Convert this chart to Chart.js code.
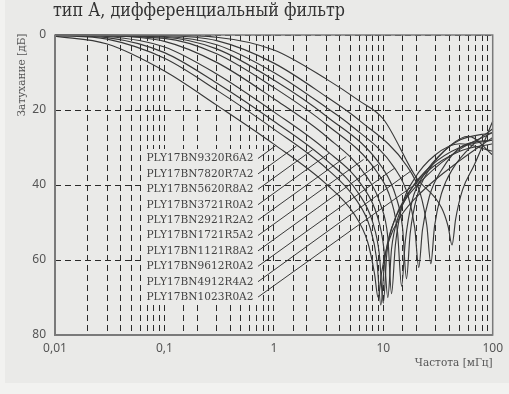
<!DOCTYPE html>
<html>
<head>
<meta charset="utf-8">
<script src="https://cdn.jsdelivr.net/npm/chart.js@4.4.1/dist/chart.umd.min.js"></script>
<style>
  html, body { margin: 0; padding: 0; background: #f2f2f0; }
  canvas { display: block; }
</style>
</head>
<body>
<canvas id="filter-chart" width="509" height="394"></canvas>
<script>
const partNames = ["PLY17BN9320R6A2", "PLY17BN7820R7A2", "PLY17BN5620R8A2", "PLY17BN3721R0A2",
  "PLY17BN2921R2A2", "PLY17BN1721R5A2", "PLY17BN1121R8A2", "PLY17BN9612R0A2",
  "PLY17BN4912R4A2", "PLY17BN1023R0A2"];

// частота, МГц / затухание, дБ
const freq0 = [0.01, 0.03, 0.1, 0.3, 1, 3, 5.4, 7.2, 8.3, 8.97, 9.7, 11.2, 14.4, 22.5, 50, 100];
const att0  = [0.3, 2.4, 9.6, 18.7, 29.1, 39.7, 47.7, 55.2, 63.5, 70, 63, 55, 48.4, 41.8, 33.5, 27.3];
const freq1 = [0.01, 0.03, 0.1, 0.3, 1, 3, 5.7, 7.6, 8.74, 9.5, 10.3, 11.9, 15.2, 23.8, 50, 100];
const att1  = [0.1, 1.1, 6.2, 14.7, 25.1, 35.5, 44.1, 51.5, 60.1, 72, 60, 51.5, 44.8, 38.1, 30.5, 26];
const freq2 = [0.01, 0.03, 0.1, 0.3, 1, 3, 6, 8, 9.2, 10, 10.8, 12.5, 16, 25, 50, 100];
const att2  = [0.1, 0.7, 4.7, 12.8, 23, 33.3, 42.4, 49.9, 58.4, 71.5, 58, 49.9, 43.2, 36.5, 31, 29];
const freq3 = [0.01, 0.03, 0.1, 0.3, 1, 3, 6.6, 8.8, 10.1, 11, 11.9, 13.8, 17.6, 27.5, 50, 100];
const att3  = [0, 0.4, 3.2, 10.4, 20.5, 30.7, 40.7, 48.2, 56.7, 70, 57, 48.2, 41.5, 34.8, 30, 28];
const freq4 = [0.01, 0.03, 0.1, 0.3, 1, 3, 7.1, 9.5, 11, 11.9, 12.9, 14.9, 19, 29.8, 50, 100];
const att4  = [0, 0.2, 1.7, 7.3, 17, 27, 37.9, 45.4, 53.9, 69, 56, 45.4, 38.6, 32, 29, 31];
const freq5 = [0.01, 0.1, 0.3, 1, 3, 8.8, 11.8, 13.5, 14.7, 15.9, 18.4, 23.5, 36.8, 50, 100];
const att5  = [0, 0.9, 5, 14, 23.8, 36.6, 44.1, 52.6, 67, 55, 44.1, 37.3, 30.7, 28, 26];
const freq6 = [0.01, 0.1, 0.3, 1, 3, 9.8, 13, 15, 16.3, 17.6, 20.4, 26, 40.8, 60, 100];
const att6  = [0, 0.6, 3.7, 12, 21.6, 35.4, 42.9, 51.4, 65, 53, 42.9, 36.1, 29.5, 27, 32];
const freq7 = [0.01, 0.1, 0.3, 1, 3, 5, 12.7, 16.9, 19.4, 21.1, 22.8, 26.4, 33.8, 52.8, 100];
const att7  = [0, 0.4, 2.6, 10, 19.3, 24, 35.5, 43, 51.5, 62, 52, 43, 36.2, 29.6, 28];
const freq8 = [0.01, 0.1, 0.3, 1, 3, 6, 16.3, 21.8, 25, 27.2, 29.4, 34, 43.5, 68, 100];
const att8  = [0, 0.2, 1.5, 7.5, 16.4, 22.7, 34.8, 42.3, 50.8, 61, 51, 42.3, 35.5, 28.9, 25];
const freq9 = [0.01, 0.1, 0.3, 1, 3, 6, 10, 20, 34, 39.1, 42.5, 45.9, 53, 68, 100];
const att9  = [0, 0.1, 0.6, 4, 11.7, 17.5, 22.4, 38, 46, 51, 56, 49, 41.3, 34.6, 23];

const curveFreqs = [freq0, freq1, freq2, freq3, freq4, freq5, freq6, freq7, freq8, freq9];
const curveAtts  = [att0, att1, att2, att3, att4, att5, att6, att7, att8, att9];

// точки на кривых, куда указывают выноски подписей
const leaderFreq = [1.04, 1.61, 2.26, 3.21, 4.59, 6.59, 9.0, 12.7, 18.2, 21.5];
const leaderAtt  = [29.5, 29.6, 30.6, 31.5, 32.4, 33.2, 34.4, 35.5, 36.1, 39];

const xTickNames = {"0.01": "0,01", "0.1": "0,1", "1": "1", "10": "10", "100": "100"};
const yTicks = [0, 20, 40, 60, 80];

const panelColor = "#eaeae8";
const inkColor = "#383838";

const datasets = curveFreqs.map((fr, k) => ({
  label: partNames[k],
  data: fr.map((f, i) => ({ x: f, y: curveAtts[k][i] })),
  borderColor: inkColor,
  borderWidth: 1.15,
  pointRadius: 0,
  fill: false,
  cubicInterpolationMode: "monotone",
  clip: 3
}));

// текст, сжатый по ширине до заданной
function fitText(ctx, text, x, y, width) {
  const w = ctx.measureText(text).width;
  ctx.save();
  ctx.translate(x, y);
  ctx.scale(Math.min(1, width / w), 1);
  ctx.fillText(text, 0, 0);
  ctx.restore();
}

const decorPlugin = {
  id: "decor",
  beforeDraw(chart) {
    const ctx = chart.ctx;
    ctx.save();
    ctx.fillStyle = panelColor;
    ctx.fillRect(5, 0, chart.width - 5, 383);
    ctx.restore();
  },
  beforeDatasetsDraw(chart) {
    const ctx = chart.ctx;
    const xs = chart.scales.x, ys = chart.scales.y;
    ctx.save();
    // плашка под подписями
    ctx.fillStyle = panelColor;
    ctx.fillRect(143, 149, 118, 156);
    ctx.font = "11px 'DejaVu Serif'";
    ctx.fillStyle = "#444";
    ctx.textBaseline = "middle";
    ctx.strokeStyle = inkColor;
    ctx.lineWidth = 1;
    partNames.forEach((name, i) => {
      const y = 158.5 + i * 15.4;
      fitText(ctx, name, 146.5, y, 107);
      ctx.beginPath();
      ctx.moveTo(258, y);
      ctx.lineTo(xs.getPixelForValue(leaderFreq[i]), ys.getPixelForValue(leaderAtt[i]));
      ctx.stroke();
    });
    ctx.restore();
  },
  afterDraw(chart) {
    const ctx = chart.ctx;
    const a = chart.chartArea;
    ctx.save();
    ctx.strokeStyle = "#7a7a7a";
    ctx.lineWidth = 1.5;
    ctx.strokeRect(a.left, a.top, a.right - a.left, a.bottom - a.top);
    ctx.lineWidth = 2;
    ctx.beginPath();
    ctx.moveTo(a.left, a.top);
    ctx.lineTo(a.left, a.bottom);
    ctx.lineTo(a.right, a.bottom);
    ctx.stroke();
    // заголовок и подписи осей
    ctx.fillStyle = "#333";
    ctx.font = "19px 'DejaVu Serif'";
    ctx.textBaseline = "alphabetic";
    fitText(ctx, "тип А, дифференциальный фильтр", 53, 15.5, 292);
    ctx.fillStyle = "#555";
    ctx.font = "10.5px 'DejaVu Serif'";
    ctx.textAlign = "right";
    ctx.fillText("Частота [мГц]", a.right, 366);
    ctx.translate(22, 75);
    ctx.rotate(-Math.PI / 2);
    ctx.textAlign = "center";
    ctx.textBaseline = "middle";
    ctx.font = "10.5px 'DejaVu Serif'";
    ctx.fillText("Затухание [дБ]", 0, 0);
    ctx.restore();
  }
};

new Chart(document.getElementById("filter-chart"), {
  type: "line",
  data: { datasets: datasets },
  plugins: [decorPlugin],
  options: {
    responsive: false,
    animation: false,
    layout: { padding: { left: 0, right: 16, top: 35, bottom: 29 } },
    plugins: { legend: { display: false }, tooltip: { enabled: false } },
    scales: {
      x: {
        type: "logarithmic",
        min: 0.01,
        max: 100,
        afterFit: (s) => { s.height = 30; },
        grid: { color: "#2a2a2a", lineWidth: 1, drawTicks: false },
        border: { display: false, dash: [6, 4] },
        ticks: {
          autoSkip: false,
          maxRotation: 0,
          padding: 6,
          color: "#555",
          font: { family: "'Noto Sans'", size: 12 },
          callback: (v) => xTickNames[String(v)] || ""
        }
      },
      y: {
        type: "linear",
        reverse: true,
        min: 0,
        max: 80,
        afterFit: (s) => { s.width = 55; },
        afterBuildTicks: (s) => { s.ticks = yTicks.map(v => ({ value: v })); },
        grid: { color: "#2a2a2a", lineWidth: 1, drawTicks: false },
        border: { display: false, dash: [6, 4] },
        ticks: {
          padding: 9,
          color: "#555",
          font: { family: "'Noto Sans'", size: 12 }
        }
      }
    }
  }
});
</script>
</body>
</html>
